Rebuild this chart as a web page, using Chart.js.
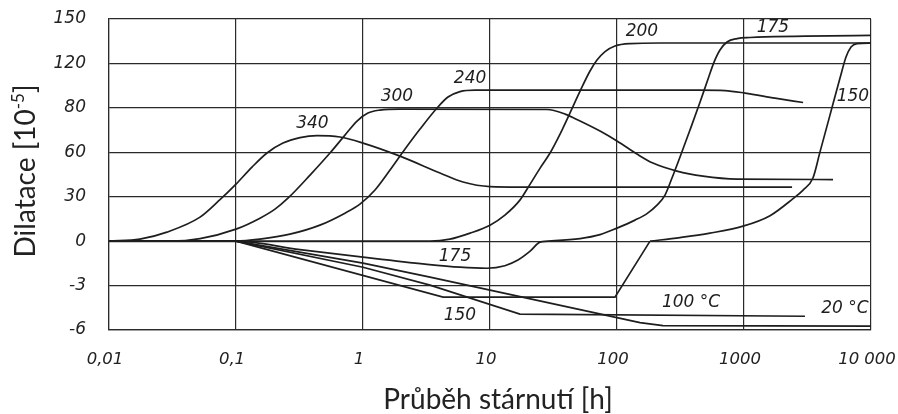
<!DOCTYPE html>
<html>
<head>
<meta charset="utf-8">
<style>
  html, body { margin: 0; padding: 0; background: #ffffff; }
  #wrap { width: 898px; height: 414px; position: relative; }
</style>
<script src="https://cdn.jsdelivr.net/npm/chart.js@4.4.1/dist/chart.umd.min.js"></script>
</head>
<body>
<div id="wrap"><canvas id="c" width="898" height="414"></canvas></div>
<script>
// Axis ticks
const X_TICKS = [0.01, 0.1, 1, 10, 100, 1000, 10000];
const X_TICK_LABELS = ['0,01', '0,1', '1', '10', '100', '1000', '10 000'];
const Y_TICK_LABELS = ['-6', '-3', '0', '30', '60', '80', '120', '150'];

// Ageing time [h] and dilatation for each ageing temperature
const T_340 = [0.01, 0.0175, 0.0286, 0.0521, 0.0748, 0.1, 0.1337, 0.1754, 0.2344, 0.319, 0.4345, 0.659, 1, 1.955, 4.04, 6.13, 10, 17.2, 2390];
const D_340 = [0, 1.35, 6.1, 16.2, 28, 38.5, 50, 59.5, 66.2, 69.9, 71.3, 70.3, 66.2, 57.4, 46, 39.9, 36.8, 36.5, 36.5];

const T_300 = [0.01, 0.0302, 0.0521, 0.1, 0.1545, 0.2028, 0.2564, 0.3828, 0.5495, 0.7211, 0.8975, 1.094, 1.361, 1.955, 28.1, 39, 51.2, 73.5, 100, 143.6, 191.7, 296.5, 475, 881, 5020];
const D_300 = [0, 0, 1.7, 8.1, 15.5, 21.6, 29, 44.6, 59.5, 71.6, 81.1, 86.5, 88.5, 89.2, 88.9, 85.8, 81.1, 74.3, 67.6, 58.8, 52.7, 47.3, 43.9, 41.9, 41.6];

const T_240 = [0.01, 0.1, 0.1545, 0.266, 0.458, 0.721, 0.946, 1.243, 1.632, 2.143, 2.813, 3.83, 4.67, 5.8, 7.62, 10, 451, 708, 1019, 1754, 2920];
const D_240 = [0, 0, 1.35, 4.7, 10.8, 18.9, 25, 34.5, 48, 62.2, 75.7, 89.9, 97.3, 101, 102, 102, 102, 101.7, 100, 96.6, 93.6];

const T_200 = [0.01, 3.37, 4.84, 6.97, 10, 13.1, 17.2, 20.7, 24.8, 29.7, 35.6, 42.6, 51.2, 61.3, 69.6, 80.5, 96.4, 127, 218, 10000];
const D_200 = [0, 0, 1.35, 5.4, 10.8, 17.6, 27.7, 38.5, 49.3, 59.5, 72.3, 86.5, 101.3, 114.9, 122.3, 128, 131.8, 133.4, 133.8, 133.8];

const T_175 = [0.01, 0.1, 0.319, 1, 3.08, 5.8, 9.46, 13.1, 16.6, 20.7, 24.8, 32.5, 51.2, 73.5, 100, 138.6, 172.3, 206.5, 238.8, 271, 313.5, 375.5, 451, 521, 581, 647, 735, 881, 1114, 10000];
const D_175 = [0, 0, -5.7, -10.8, -15.5, -17.6, -18.3, -16.6, -12.8, -6.8, -0.7, 0.3, 1.7, 4.4, 8.8, 14.2, 18.6, 24.3, 31.1, 42.6, 56.8, 75, 93.9, 109.5, 120.9, 129.1, 134.5, 136.8, 137.5, 138.9];

// 150 °C: straight contraction branch, then the expansion branch
const T_150_DOWN = [0.01, 0.1, 4.27, 96.4, 182];
const D_150_DOWN = [0, 0, -37.8, -37.8, 0];
const T_150_UP = [182, 313.5, 540, 982, 1603, 2432, 2920, 3490, 3963, 4753, 5702, 6357, 6963, 7762, 10000];
const D_150_UP = [0, 2.4, 5.4, 10.1, 17.2, 28.7, 34.5, 42.6, 60.1, 85.1, 110.1, 124.3, 131.1, 133.4, 133.8];

const T_100 = [0.01, 0.1, 1, 3.37, 17.2, 3020];
const D_100 = [0, 0, -17.6, -29.7, -49.3, -50.7];

const T_20 = [0.01, 0.1, 1, 3.37, 151.7, 230, 10000];
const D_20 = [0, 0, -14.9, -24.3, -55, -57.1, -57.4];

// Curve captions, anchored in axis units (time, dilatation)
const CAPTIONS = [
  { text: '340', t: 0.40, d: 79.7 },
  { text: '300', t: 1.85, d: 97.3 },
  { text: '240', t: 6.97, d: 110.1 },
  { text: '200', t: 157, d: 141.2 },
  { text: '175', t: 1690, d: 143.9 },
  { text: '150', t: 7210, d: 97.3 },
  { text: '175', t: 5.3, d: -10.6 },
  { text: '150', t: 5.8, d: -50.5 },
  { text: '100 °C', t: 383, d: -41.2 },
  { text: '20 °C', t: 6240, d: -45.3 }
];

const INK = '#1e1e1e';
const LABEL_FONT = 'italic 17px "DejaVu Sans"';
const TITLE_FONT = '28px Lato';
const SUP_FONT = '17px Lato';

function pts(ts, ds) { return ts.map((t, i) => ({ x: t, y: ds[i] })); }
function curve(label, ts, ds, smooth) {
  return {
    label,
    data: pts(ts, ds),
    borderColor: INK,
    borderWidth: 1.7,
    pointRadius: 0,
    fill: false,
    tension: 0,
    cubicInterpolationMode: smooth ? 'monotone' : 'default'
  };
}

const captionsPlugin = {
  id: 'captions',
  afterDatasetsDraw(chart) {
    const { ctx, scales: { x, y } } = chart;
    ctx.save();
    ctx.fillStyle = INK;
    ctx.font = LABEL_FONT;
    ctx.textAlign = 'center';
    ctx.textBaseline = 'middle';
    CAPTIONS.forEach(c => ctx.fillText(c.text, x.getPixelForValue(c.t), y.getPixelForValue(c.d)));
    ctx.restore();
  }
};

const titlesPlugin = {
  id: 'titles',
  afterDraw(chart) {
    const { ctx, chartArea } = chart;
    ctx.save();
    ctx.fillStyle = '#222';
    ctx.font = TITLE_FONT;
    ctx.textBaseline = 'alphabetic';
    // x title
    ctx.textAlign = 'center';
    ctx.fillText('Průběh stárnutí [h]', (chartArea.left + chartArea.right) / 2 + 8, 409);
    // y title, rotated, with superscript exponent
    const main = 'Dilatace [10';
    const sup = '-5';
    const tail = ']';
    const wMain = ctx.measureText(main).width;
    const wTail = ctx.measureText(tail).width;
    ctx.font = SUP_FONT;
    const wSup = ctx.measureText(sup).width;
    const total = wMain + wSup + wTail;
    ctx.translate(35, 171);
    ctx.rotate(-Math.PI / 2);
    ctx.textAlign = 'left';
    let px = -total / 2;
    ctx.font = TITLE_FONT;
    ctx.fillText(main, px, 0);
    px += wMain;
    ctx.font = SUP_FONT;
    ctx.fillText(sup, px, -11);
    px += wSup;
    ctx.font = TITLE_FONT;
    ctx.fillText(tail, px, 0);
    ctx.restore();
  }
};

new Chart(document.getElementById('c'), {
  type: 'line',
  data: {
    datasets: [
      curve('340', T_340, D_340, true),
      curve('300', T_300, D_300, true),
      curve('240', T_240, D_240, true),
      curve('200', T_200, D_200, true),
      curve('175', T_175, D_175, true),
      curve('150', T_150_DOWN, D_150_DOWN, false),
      curve('150', T_150_UP, D_150_UP, true),
      curve('100 °C', T_100, D_100, false),
      curve('20 °C', T_20, D_20, false)
    ]
  },
  options: {
    responsive: false,
    animation: false,
    layout: { padding: { top: 19, right: 27, bottom: 0, left: 0 } },
    plugins: { legend: { display: false }, tooltip: { enabled: false } },
    scales: {
      x: {
        type: 'logarithmic',
        min: 0.01,
        max: 10000,
        afterBuildTicks(scale) { scale.ticks = X_TICKS.map(v => ({ value: v })); },
        afterFit(scale) { scale.height = 84; scale.paddingLeft = 0; scale.paddingRight = 0; },
        grid: { color: '#2a2a2a', lineWidth: 1.2, drawTicks: false },
        border: { color: '#2a2a2a', width: 1.2 },
        ticks: {
          autoSkip: false, maxRotation: 0, padding: 20, labelOffset: -4,
          color: '#222', font: { family: 'DejaVu Sans', style: 'italic', size: 16.5 },
          callback: (v, i) => X_TICK_LABELS[i]
        }
      },
      y: {
        type: 'linear',
        min: -60,
        max: 150,
        afterFit(scale) { scale.width = 109; scale.paddingTop = 0; scale.paddingBottom = 0; },
        grid: { color: '#2a2a2a', lineWidth: 1.2, drawTicks: false },
        border: { color: '#2a2a2a', width: 1.2 },
        ticks: {
          stepSize: 30, padding: 23,
          color: '#222', font: { family: 'DejaVu Sans', style: 'italic', size: 17 },
          callback: (v, i) => Y_TICK_LABELS[i]
        }
      }
    }
  },
  plugins: [captionsPlugin, titlesPlugin]
});
</script>
</body>
</html>
